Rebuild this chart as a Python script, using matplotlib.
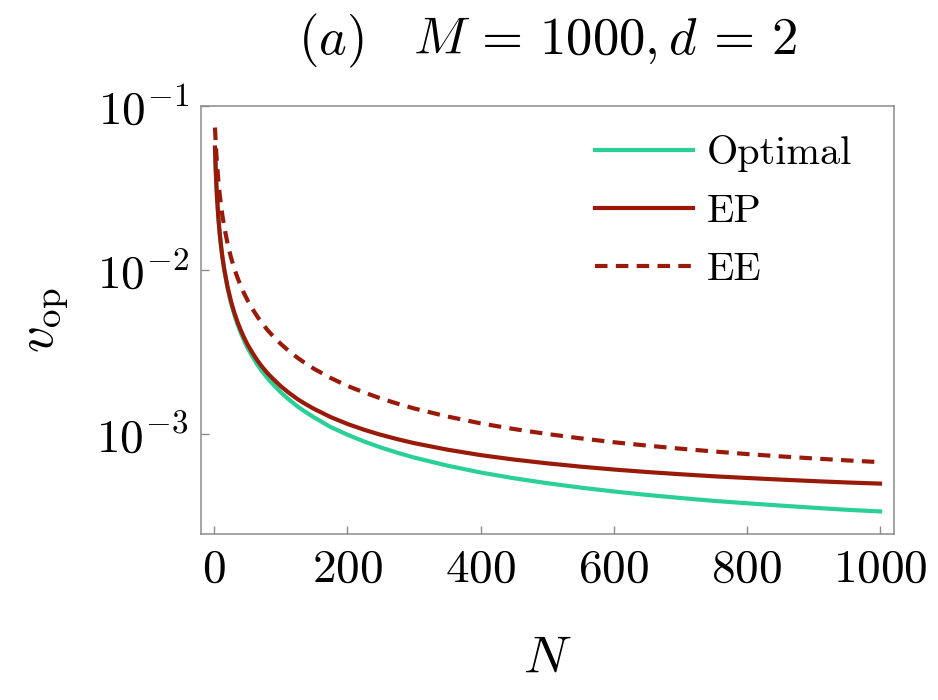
import matplotlib
matplotlib.use("Agg")
import matplotlib.pyplot as plt
from matplotlib.ticker import NullLocator

plt.rcParams['font.family'] = ['cmr10', 'DejaVu Serif']
plt.rcParams['mathtext.fontset'] = 'cm'
plt.rcParams['axes.unicode_minus'] = False

# values (log scale)
N = [1, 2, 3, 4, 6, 8, 10, 12, 15, 20, 25, 30, 35, 40, 45, 50, 57, 65, 72,
     80, 90, 100, 112, 125, 137, 150, 175, 200, 225, 250, 275, 300, 350,
     400, 450, 500, 550, 600, 650, 700, 750, 800, 850, 900, 950, 1000]
optimal = [0.0552, 0.0414, 0.0332, 0.0277, 0.0208, 0.0167, 0.0139, 0.0120,
           0.00988, 0.00767, 0.00628, 0.00533, 0.00463, 0.00410, 0.00368,
           0.00334, 0.00297, 0.00263, 0.00240, 0.00218, 0.00197, 0.00179,
           0.00162, 0.00147, 0.00136, 0.00126, 0.00110, 0.000989, 0.000899,
           0.000827, 0.000768, 0.000718, 0.000641, 0.000582, 0.000537,
           0.000501, 0.000471, 0.000446, 0.000425, 0.000407, 0.000391,
           0.000378, 0.000366, 0.000355, 0.000345, 0.000337]
ep = [0.0556, 0.0416, 0.0333, 0.0278, 0.0210, 0.0168, 0.0141, 0.0121,
      0.01004, 0.00783, 0.00644, 0.00549, 0.00479, 0.00426, 0.00384,
      0.00350, 0.00313, 0.00279, 0.00256, 0.00234, 0.00213, 0.00195,
      0.00178, 0.00163, 0.00152, 0.00142, 0.001265, 0.00115, 0.00106,
      0.000988, 0.000929, 0.000879, 0.000802, 0.000743, 0.000698,
      0.000662, 0.000632, 0.000607, 0.000586, 0.000568, 0.000552,
      0.000539, 0.000527, 0.000516, 0.000506, 0.000498]
ee = [0.0736, 0.0603, 0.0511, 0.0443, 0.0351, 0.0290, 0.0248, 0.0216,
      0.0182, 0.01437, 0.01191, 0.01018, 0.00891, 0.00792, 0.00714,
      0.00651, 0.00580, 0.00516, 0.00471, 0.00429, 0.00387, 0.00353,
      0.00320, 0.00291, 0.00269, 0.00249, 0.00219, 0.00196, 0.00179,
      0.001645, 0.00153, 0.00143, 0.001277, 0.00116, 0.001071, 0.000999,
      0.00094, 0.00089, 0.000849, 0.000813, 0.000782, 0.000754, 0.00073,
      0.000709, 0.00069, 0.000673]

green = '#2bcf98'
red = '#9a1a0a'
gray = '#8c8c8c'

fig = plt.figure(figsize=(9.38, 7.0), dpi=100)
ax = fig.add_axes([0.2143, 0.2371, 0.7388, 0.6119])

ax.plot(N, optimal, color=green, lw=3.0, label='Optimal')
ax.plot(N, ep, color=red, lw=3.0, label='EP')
ax.plot(N, ee, color=red, lw=3.0, dashes=(3.0, 2.0), label='EE')

ax.set_yscale('log')
ax.set_xlim(-20, 1021)
ax.set_ylim(10 ** -3.61, 0.1)

ax.set_xticks([0, 200, 400, 600, 800, 1000])
ax.set_xticklabels(['$0$', '$200$', '$400$', '$600$', '$800$', '$1000$'])
ax.set_yticks([1e-3, 1e-2, 1e-1])
ax.set_yticklabels(['$10^{-3}$', '$10^{-2}$', '$10^{-1}$'])
ax.yaxis.set_minor_locator(NullLocator())

ax.tick_params(direction='in', length=6, width=1, color=gray, labelsize=34)
ax.tick_params(axis='x', pad=11)
ax.tick_params(axis='y', pad=9)
for s in ax.spines.values():
    s.set_color(gray)
    s.set_linewidth(1.1)

ax.set_xlabel('$N$', fontsize=38, labelpad=32)
ax.set_ylabel(r'$v_{\mathrm{op}}$', fontsize=38, labelpad=18)
ax.set_title(r'$(a)\quad M\,=\,1000, d\,=\,2$', fontsize=38, pad=37)

ax.legend(loc='upper left', bbox_to_anchor=(0.545, 0.97), borderaxespad=0,
          frameon=False, fontsize=29, handlelength=2.45, handletextpad=0.32,
          labelspacing=0.55)

fig.savefig('out.png', dpi=100)
plt.close(fig)
